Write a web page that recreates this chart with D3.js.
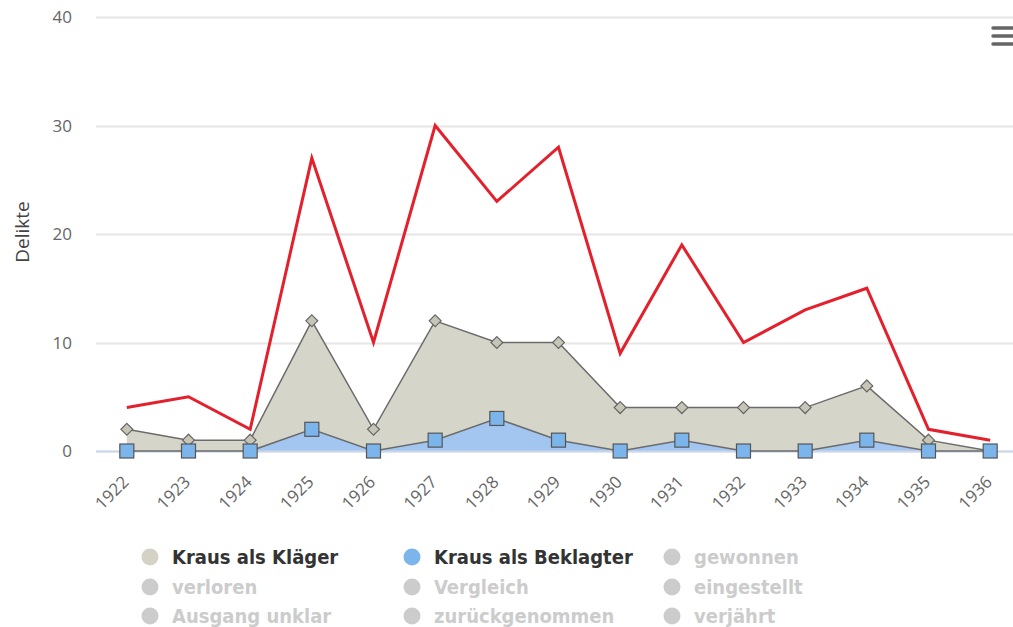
<!DOCTYPE html>
<html>
<head>
<meta charset="utf-8">
<script src="https://cdn.jsdelivr.net/npm/d3@7"></script>
<style>
  body { margin: 0; background: #fff; }
  svg { display: block; }
</style>
</head>
<body>
<div id="chart"></div>
<script>
// Jahre (Kategorien)
const years = ['1922', '1923', '1924', '1925', '1926', '1927', '1928', '1929',
  '1930', '1931', '1932', '1933', '1934', '1935', '1936'];

// Serienwerte
const klaeger = [2, 1, 1, 12, 2, 12, 10, 10, 4, 4, 4, 4, 6, 1, 0];
const beklagter = [0, 0, 0, 2, 0, 1, 3, 1, 0, 1, 0, 0, 1, 0, 0];
const gesamt = [4, 5, 2, 27, 10, 30, 23, 28, 9, 19, 10, 13, 15, 2, 1];

const yTicks = [0, 10, 20, 30, 40];

// Legende
const legendItems = [
  { name: 'Kraus als Kläger', color: '#d3d2c5', visible: true },
  { name: 'Kraus als Beklagter', color: '#7cb5ec', visible: true },
  { name: 'gewonnen', visible: false },
  { name: 'verloren', visible: false },
  { name: 'Vergleich', visible: false },
  { name: 'eingestellt', visible: false },
  { name: 'Ausgang unklar', visible: false },
  { name: 'zurückgenommen', visible: false },
  { name: 'verjährt', visible: false }
];

const width = 1013;
const height = 627;
const plot = { left: 96, right: 1021, top: 17, bottom: 451 };

const svg = d3.select('#chart').append('svg')
  .attr('width', width)
  .attr('height', height)
  .style('font-family', '"Open Sans", "DejaVu Sans", sans-serif');

const x = d3.scaleBand()
  .domain(years)
  .range([plot.left, plot.right]);

const y = d3.scaleLinear()
  .domain([0, 40])
  .range([plot.bottom, plot.top]);

const cx = d => x(d) + x.bandwidth() / 2;

// Gitterlinien
svg.append('g')
  .selectAll('line')
  .data(yTicks)
  .enter()
  .append('line')
  .attr('x1', plot.left)
  .attr('x2', width)
  .attr('y1', d => Math.round(y(d)) + 0.5)
  .attr('y2', d => Math.round(y(d)) + 0.5)
  .attr('stroke', '#e6e6e6')
  .attr('stroke-width', 2);

// Y-Achse Beschriftung
svg.append('g')
  .selectAll('text')
  .data(yTicks)
  .enter()
  .append('text')
  .attr('x', 72)
  .attr('y', d => y(d) + 6)
  .attr('text-anchor', 'end')
  .attr('fill', '#666')
  .attr('font-size', 17)
  .text(d => d);

svg.append('text')
  .attr('transform', `translate(29, 232) rotate(-90)`)
  .attr('text-anchor', 'middle')
  .attr('fill', '#444')
  .attr('font-size', 19)
  .text('Delikte');

// Flächen
const area = d3.area()
  .x((d, i) => cx(years[i]))
  .y0(y(0))
  .y1(d => y(d));

const line = d3.line()
  .x((d, i) => cx(years[i]))
  .y(d => y(d));

svg.append('path')
  .datum(klaeger)
  .attr('d', area)
  .attr('fill', '#d6d5ca');

svg.append('path')
  .datum(beklagter)
  .attr('d', area)
  .attr('fill', '#a3c6f0');

// X-Achsenlinie
svg.append('line')
  .attr('x1', plot.left)
  .attr('x2', width)
  .attr('y1', plot.bottom + 0.5)
  .attr('y2', plot.bottom + 0.5)
  .attr('stroke', '#ccd6eb')
  .attr('stroke-width', 2);

svg.append('path')
  .datum(klaeger)
  .attr('d', line)
  .attr('fill', 'none')
  .attr('stroke', '#6b6b6b')
  .attr('stroke-width', 1.5);

svg.append('path')
  .datum(beklagter)
  .attr('d', line)
  .attr('fill', 'none')
  .attr('stroke', '#6b6b6b')
  .attr('stroke-width', 1.5);

// Gesamtlinie
svg.append('path')
  .datum(gesamt)
  .attr('d', line)
  .attr('fill', 'none')
  .attr('stroke', '#e3202b')
  .attr('stroke-width', 3)
  .attr('stroke-linejoin', 'miter');

// Marker
svg.append('g')
  .selectAll('path')
  .data(klaeger)
  .enter()
  .append('path')
  .attr('d', d3.symbol().type(d3.symbolDiamond2).size(90))
  .attr('transform', (d, i) => `translate(${cx(years[i])},${y(d)})`)
  .attr('fill', '#c6c5b6')
  .attr('stroke', '#666')
  .attr('stroke-width', 1.2);

svg.append('g')
  .selectAll('rect')
  .data(beklagter)
  .enter()
  .append('rect')
  .attr('x', (d, i) => cx(years[i]) - 7)
  .attr('y', d => y(d) - 7)
  .attr('width', 14)
  .attr('height', 14)
  .attr('fill', '#7cb5ec')
  .attr('stroke', '#555')
  .attr('stroke-width', 1.2);

// X-Achse Beschriftung
svg.append('g')
  .selectAll('text')
  .data(years)
  .enter()
  .append('text')
  .attr('transform', d => `translate(${cx(d) + 3}, ${plot.bottom + 32}) rotate(-45)`)
  .attr('text-anchor', 'end')
  .attr('fill', '#666')
  .attr('font-size', 17)
  .text(d => d);

// Legende
const legend = svg.append('g')
  .style('font-family', '"DejaVu Sans Condensed", "DejaVu Sans", sans-serif')
  .attr('font-size', 20)
  .attr('font-weight', 'bold');

const colX = [150, 412, 672];
const rowY = [557, 587, 616];

legendItems.forEach((item, i) => {
  const gx = colX[i % 3];
  const gy = rowY[Math.floor(i / 3)];
  legend.append('circle')
    .attr('cx', gx)
    .attr('cy', gy)
    .attr('r', 8.5)
    .attr('fill', item.visible ? item.color : '#cccccc');
  legend.append('text')
    .attr('x', gx + 22)
    .attr('y', gy + 7)
    .attr('fill', item.visible ? '#333' : '#cccccc')
    .text(item.name);
});

// Menü-Symbol
svg.append('g')
  .selectAll('line')
  .data([28, 36, 44])
  .enter()
  .append('line')
  .attr('x1', 993)
  .attr('x2', 1013)
  .attr('y1', d => d)
  .attr('y2', d => d)
  .attr('stroke', '#666')
  .attr('stroke-width', 3.5)
  .attr('stroke-linecap', 'round');
</script>
</body>
</html>
